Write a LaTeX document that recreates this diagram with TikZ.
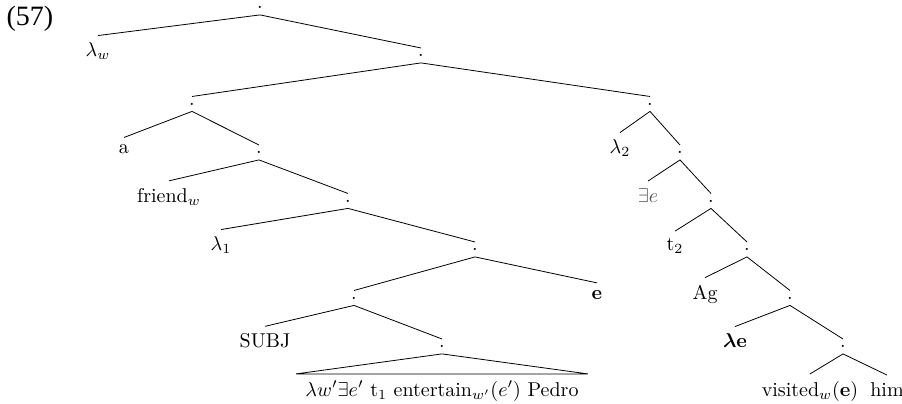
\documentclass[tikz,border=0pt]{standalone}
\usepackage{amsmath,amssymb}
\usepackage{fontspec}
\newfontfamily\exfont{Liberation Serif}
\usepackage{tikz}
\usetikzlibrary{positioning}

\begin{document}
\begin{tikzpicture}[
    x=0.5pt, y=-0.5pt,
    % Styles
    dotnode/.style={anchor=base, inner sep=3pt},
    leaf/.style={anchor=base, inner sep=3.33pt},
    roofleaf/.style={anchor=base, inner ysep=3.33pt, inner xsep=4.5pt},
    faded/.style={text=black!65},
    branch/.style={-, line width=0.4pt, draw=black}
]
\useasboundingbox (0,0) rectangle (902,403);

% --- Example number ---
\node[anchor=base] (ex_num) at (30,25) {\exfont\fontsize{14}{16}\selectfont (57)};

% --- Left spine ---
\node[dotnode] (root) at (260,8.5) {.};
\node[leaf] (lam_w) at (98,56.5) {$\lambda_w$};
\node[dotnode] (top_vp) at (421,56.5) {.};
\node[dotnode] (subj_dp) at (192,105) {.};
\node[leaf] (det_a) at (124,153.5) {a};
\node[dotnode] (np_rel) at (259,153.5) {.};
\node[leaf] (friend) at (169,202) {friend$_w$};
\node[dotnode] (rel_cl) at (348,202) {.};
\node[leaf] (lam_one) at (221,250.5) {$\lambda_1$};
\node[dotnode] (ev_ap) at (475,250.5) {.};
\node[dotnode] (ev_fn) at (354,299) {.};
\node[leaf] (ev_var) at (597,299) {\textbf{e}};
\node[leaf] (subj) at (265,347.5) {SUBJ};
\node[dotnode] (ent_vp) at (442,347.5) {.};
\node[roofleaf] (ent_roof) at (442,396) {$\lambda w'\exists e'$ t$_1$ entertain$_{w'}$($e'$) Pedro};

% --- Right spine ---
\node[dotnode] (main_vp) at (650,105) {.};
\node[leaf] (lam_two) at (620,153.5) {$\lambda_2$};
\node[dotnode] (ex_cl) at (680,153.5) {.};
\node[leaf, faded] (ex_e) at (648,202) {$\exists e$};
\node[dotnode] (tr_cl) at (711,202) {.};
\node[leaf] (t_two) at (675,250.5) {t$_2$};
\node[dotnode] (ag_cl) at (747,250.5) {.};
\node[leaf] (ag) at (705,299) {Ag};
\node[dotnode] (lam_cl) at (790,299) {.};
\node[leaf] (lam_e) at (735,347.5) {$\boldsymbol{\lambda}$\textbf{e}};
\node[dotnode] (verb_vp) at (843,347.5) {.};
\node[leaf] (visited) at (810,396) {visited$_w$(\textbf{e})};
\node[leaf] (him) at (887,396) {him};

% --- Branches ---
\draw[branch] (root.south) -- (lam_w.north);
\draw[branch] (root.south) -- (top_vp.north);
\draw[branch] (top_vp.south) -- (subj_dp.north);
\draw[branch] (top_vp.south) -- (main_vp.north);
\draw[branch] (subj_dp.south) -- (det_a.north);
\draw[branch] (subj_dp.south) -- (np_rel.north);
\draw[branch] (np_rel.south) -- (friend.north);
\draw[branch] (np_rel.south) -- (rel_cl.north);
\draw[branch] (rel_cl.south) -- (lam_one.north);
\draw[branch] (rel_cl.south) -- (ev_ap.north);
\draw[branch] (ev_ap.south) -- (ev_fn.north);
\draw[branch] (ev_ap.south) -- (ev_var.north);
\draw[branch] (ev_fn.south) -- (subj.north);
\draw[branch] (ev_fn.south) -- (ent_vp.north);
\draw[branch] (ent_vp.south) -- (ent_roof.north west) -- (ent_roof.north east) -- cycle;

\draw[branch] (main_vp.south) -- (lam_two.north);
\draw[branch] (main_vp.south) -- (ex_cl.north);
\draw[branch] (ex_cl.south) -- (ex_e.north);
\draw[branch] (ex_cl.south) -- (tr_cl.north);
\draw[branch] (tr_cl.south) -- (t_two.north);
\draw[branch] (tr_cl.south) -- (ag_cl.north);
\draw[branch] (ag_cl.south) -- (ag.north);
\draw[branch] (ag_cl.south) -- (lam_cl.north);
\draw[branch] (lam_cl.south) -- (lam_e.north);
\draw[branch] (lam_cl.south) -- (verb_vp.north);
\draw[branch] (verb_vp.south) -- (visited.north);
\draw[branch] (verb_vp.south) -- (him.north);

\end{tikzpicture}
\end{document}
